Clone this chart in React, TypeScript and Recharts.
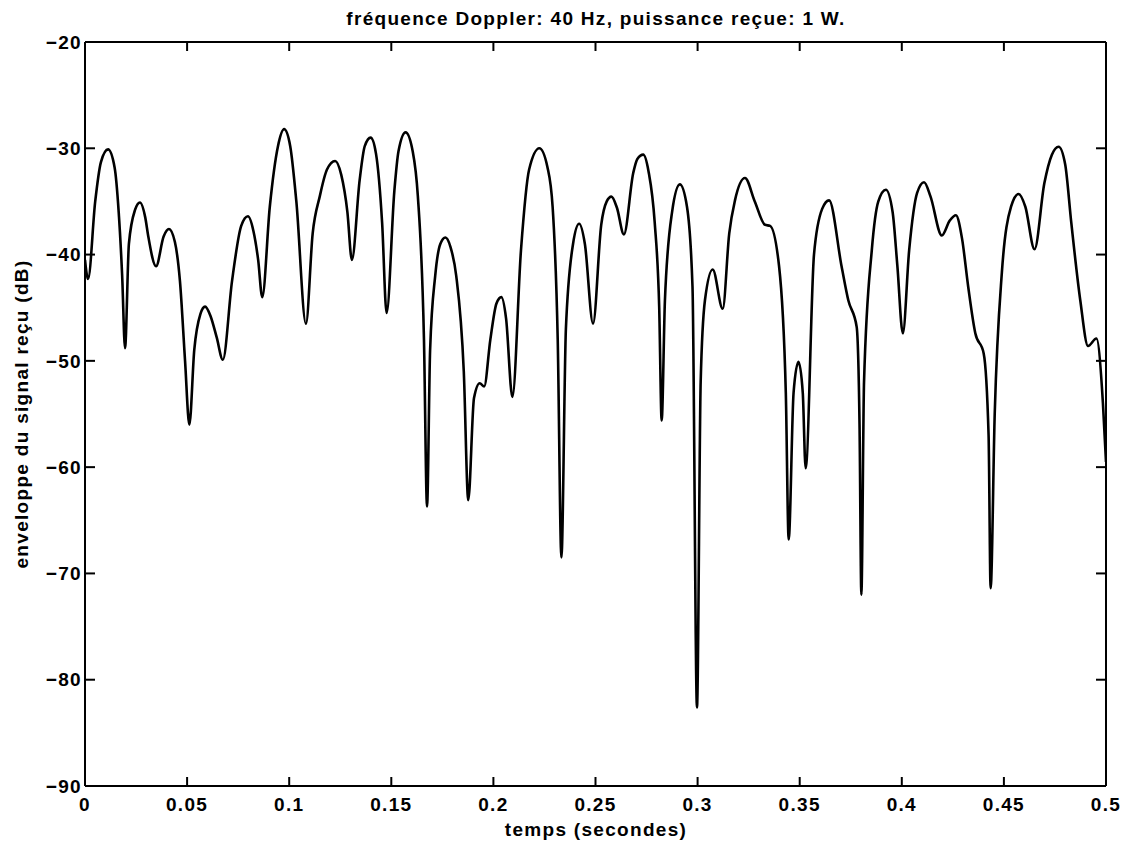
import { LineChart, Line, XAxis, YAxis } from "recharts";

// [time (s), received envelope (dB)]
const trace: [number, number][] = [
  [0, -40.5], [0.0015, -42.3], [0.005, -35], [0.0078, -31.3], [0.0113, -30.1],
  [0.0145, -31.8], [0.0165, -36], [0.0182, -42], [0.0196, -48.8], [0.0215, -39],
  [0.0245, -35.8], [0.0269, -35.1], [0.0295, -36.5], [0.031, -38.3], [0.0348, -41.1],
  [0.0385, -38.3], [0.0411, -37.6], [0.044, -38.8], [0.0465, -42.5], [0.049, -50],
  [0.0511, -56], [0.0535, -49], [0.0565, -45.6], [0.0588, -44.9], [0.0615, -45.8],
  [0.0645, -47.8], [0.0675, -49.9], [0.072, -42.5], [0.0765, -37.3], [0.0798, -36.4],
  [0.0825, -37.8], [0.0848, -40.5], [0.0868, -44], [0.0905, -35.5], [0.0945, -29.8],
  [0.0975, -28.2], [0.1005, -29.8], [0.1035, -35], [0.1082, -46.5], [0.1115, -38],
  [0.115, -34.5], [0.1185, -32], [0.1225, -31.2], [0.1255, -32.5], [0.1285, -36],
  [0.1307, -40.5], [0.1345, -33], [0.137, -29.8], [0.1399, -29], [0.1425, -30.5],
  [0.1455, -37], [0.1477, -45.5], [0.1515, -34], [0.1535, -30.3], [0.157, -28.5],
  [0.1605, -30.3], [0.163, -34.5], [0.166, -48], [0.1675, -63.7], [0.169, -49],
  [0.1715, -42], [0.174, -39], [0.1765, -38.4], [0.179, -39.3], [0.1818, -42],
  [0.1855, -51], [0.1877, -63.1], [0.1905, -53.5], [0.1933, -52.1], [0.1955, -52.4],
  [0.1985, -48], [0.2015, -44.6], [0.2039, -44], [0.2062, -46], [0.2093, -53.4],
  [0.2135, -39.6], [0.2175, -32], [0.2225, -30], [0.2265, -31.8], [0.229, -35.5],
  [0.2315, -48], [0.2333, -68.5], [0.2355, -47], [0.239, -39], [0.242, -37.1],
  [0.2448, -39], [0.2488, -46.5], [0.2528, -37.2], [0.2555, -35], [0.2578, -34.55],
  [0.2605, -35.6], [0.2639, -38.1], [0.2685, -32.3], [0.2705, -31], [0.2734, -30.6],
  [0.276, -32.2], [0.279, -37], [0.2812, -45], [0.2824, -55.6], [0.284, -44.3],
  [0.2875, -36], [0.2913, -33.4], [0.2948, -35.5], [0.2975, -43], [0.2997, -82.6],
  [0.3015, -52], [0.3036, -44.3], [0.3074, -41.4], [0.3123, -45.1], [0.3155, -38],
  [0.3183, -34.9], [0.3232, -32.8], [0.328, -35], [0.333, -37.2], [0.3355, -37.3],
  [0.3399, -41.1], [0.3432, -53], [0.3446, -66.8], [0.347, -53], [0.3494, -50.1],
  [0.3515, -53], [0.3529, -60.1], [0.357, -40], [0.361, -35.7], [0.3644, -34.9],
  [0.3705, -41.1], [0.3738, -44.3], [0.3779, -46.8], [0.3793, -56], [0.3802, -72],
  [0.3815, -52], [0.3853, -39.6], [0.3885, -35], [0.3922, -33.9], [0.3955, -36],
  [0.3978, -41], [0.4005, -47.4], [0.4036, -39.6], [0.4075, -34.2], [0.4109, -33.2],
  [0.414, -34.5], [0.4196, -38.2], [0.4235, -36.8], [0.4265, -36.3], [0.4295, -38.5],
  [0.4325, -43], [0.436, -47.4], [0.4401, -49.3], [0.4425, -57], [0.4435, -71.4],
  [0.4455, -55], [0.449, -41.7], [0.4535, -35.5], [0.4572, -34.3], [0.4605, -35.5],
  [0.465, -39.5], [0.4698, -33.3], [0.4735, -30.6], [0.4768, -29.85], [0.48, -31.5],
  [0.483, -37], [0.4874, -44.3], [0.4912, -48.6], [0.4953, -47.9], [0.4985, -54],
  [0.5, -59.5],
];

const xTicks = [0, 0.05, 0.1, 0.15, 0.2, 0.25, 0.3, 0.35, 0.4, 0.45, 0.5];
const yTicks = [-90, -80, -70, -60, -50, -40, -30, -20];

const data = trace.map(([t, v]) => ({ t, v }));

const FONT = '"Liberation Sans", Arial, Helvetica, sans-serif';
const FS = 19;
const LS = 1.3;
const X_MARGIN = 12;
const Y_MARGIN = 3;

const fmt = (v: number) => (v < 0 ? `\u2212${Math.abs(v)}` : String(v));

function BottomTick(props: any) {
  const { x, y, payload } = props;
  const ay = y - X_MARGIN;
  return (
    <g>
      <line x1={x} x2={x} y1={ay} y2={ay - 9} stroke="#000" strokeWidth={2} />
      <text x={x} y={y} dy="0.71em" textAnchor="middle" fill="#000"
        fontFamily={FONT} fontSize={FS} fontWeight="bold" letterSpacing={LS}>
        {String(payload.value)}
      </text>
    </g>
  );
}

function LeftTick(props: any) {
  const { x, y, payload } = props;
  const ax = x + Y_MARGIN;
  return (
    <g>
      <line x1={ax} x2={ax + 10} y1={y} y2={y} stroke="#000" strokeWidth={2} />
      <text x={x} y={y} dy="0.355em" textAnchor="end" fill="#000"
        fontFamily={FONT} fontSize={FS} fontWeight="bold" letterSpacing={LS}>
        {fmt(payload.value)}
      </text>
    </g>
  );
}

function TopTick(props: any) {
  const { x, y } = props;
  return <line x1={x} x2={x} y1={y} y2={y + 9} stroke="#000" strokeWidth={2} />;
}

function RightTick(props: any) {
  const { x, y } = props;
  return <line x1={x} x2={x - 10} y1={y} y2={y} stroke="#000" strokeWidth={2} />;
}

const textStyle = {
  position: "absolute" as const,
  whiteSpace: "nowrap" as const,
  fontSize: FS,
  fontWeight: "bold" as const,
  letterSpacing: LS,
  lineHeight: "20px",
  color: "#000",
};

export default function App() {
  return (
    <div style={{ position: "absolute", left: 0, top: 0, width: 1130, height: 843, background: "#fff", fontFamily: FONT }}>
      <LineChart width={1130} height={843} data={data}
        margin={{ top: 41, right: 23, bottom: 0, left: 0 }}>
        <XAxis dataKey="t" type="number" domain={[0, 0.5]} ticks={xTicks}
          height={57} tickSize={0} tickLine={false} tickMargin={X_MARGIN}
          axisLine={{ stroke: "#000", strokeWidth: 2 }} tick={<BottomTick />}
          interval={0} allowDataOverflow />
        <XAxis xAxisId="top" dataKey="t" orientation="top" type="number" domain={[0, 0.5]}
          ticks={xTicks} height={1} tickSize={0} tickLine={false} tickMargin={0}
          axisLine={{ stroke: "#000", strokeWidth: 2 }} tick={<TopTick />}
          interval={0} allowDataOverflow />
        <YAxis type="number" domain={[-90, -20]} ticks={yTicks} width={85}
          tickSize={0} tickLine={false} tickMargin={Y_MARGIN}
          axisLine={{ stroke: "#000", strokeWidth: 2 }} tick={<LeftTick />}
          interval={0} allowDataOverflow />
        <YAxis yAxisId="right" orientation="right" type="number" domain={[-90, -20]}
          ticks={yTicks} width={1} tickSize={0} tickLine={false} tickMargin={0}
          axisLine={{ stroke: "#000", strokeWidth: 2 }} tick={<RightTick />}
          interval={0} allowDataOverflow />
        {/* invisible copy so the top / right box axes are drawn */}
        <Line xAxisId="top" yAxisId="right" type="monotone" dataKey="v" stroke="none"
          dot={false} activeDot={false} isAnimationActive={false} />
        <Line type="monotone" dataKey="v" stroke="#000" strokeWidth={2.6}
          dot={false} activeDot={false} isAnimationActive={false} />
      </LineChart>
      <div style={{ ...textStyle, left: 596, top: 9, transform: "translateX(-50%)" }}>
        fréquence Doppler: 40 Hz, puissance reçue: 1 W.
      </div>
      <div style={{ ...textStyle, left: 596, top: 820, transform: "translateX(-50%)" }}>
        temps (secondes)
      </div>
      <div style={{ ...textStyle, left: 22, top: 414, transform: "translate(-50%, -50%) rotate(-90deg)" }}>
        enveloppe du signal reçu (dB)
      </div>
    </div>
  );
}
